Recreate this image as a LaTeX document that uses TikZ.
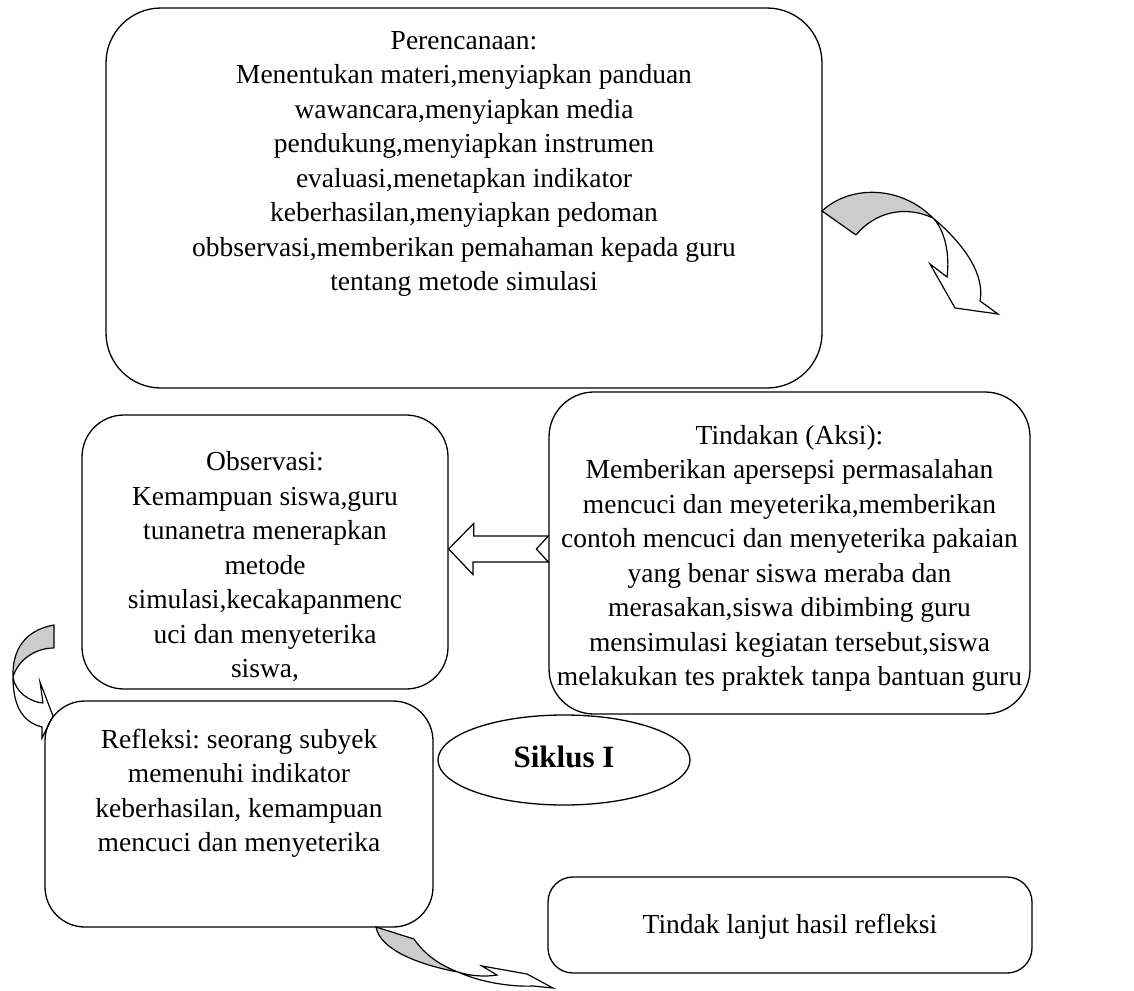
\documentclass[tikz,border=0pt]{standalone}
\usepackage{fontspec}
\setmainfont{Liberation Serif}
\usetikzlibrary{shapes.geometric}
\begin{document}
\frenchspacing
\begin{tikzpicture}[x=1pt,y=-1pt,
  box/.style={draw, rectangle, line width=1.3pt, inner sep=0pt},
  txt/.style={align=center, inner sep=0pt, anchor=north, font=\fontsize{27.5}{34.5}\selectfont},
  ribbon/.style={draw, line width=1.2pt, line join=miter},
  shade/.style={fill=black!20}]
\useasboundingbox (0,0) rectangle (1134,990);

% boxes
\node[box, rounded corners=55pt, minimum width=716pt, minimum height=380pt] (plan) at (464,198) {};
\node[box, rounded corners=42pt, minimum width=366pt, minimum height=274pt] (obs) at (265,552) {};
\node[box, rounded corners=45pt, minimum width=481pt, minimum height=322pt] (act) at (789.5,553) {};
\node[box, rounded corners=40pt, minimum width=388pt, minimum height=226pt] (refl) at (239,814) {};
\node[box, rounded corners=25pt, minimum width=484pt, minimum height=96pt] (next) at (790,925) {};
\node[draw, ellipse, line width=1.3pt, minimum width=252pt, minimum height=90pt, inner sep=0pt] (cyc) at (564,760) {};

% texts
\node[txt] (plant) at ([yshift=-23.5pt]plan.north) {Perencanaan:\\Menentukan materi,menyiapkan panduan\\wawancara,menyiapkan media\\pendukung,menyiapkan instrumen\\evaluasi,menetapkan indikator\\keberhasilan,menyiapkan pedoman\\obbservasi,memberikan pemahaman kepada guru\\tentang metode simulasi};
\node[txt] (obst) at ([yshift=-37pt]obs.north) {Observasi:\\Kemampuan siswa,guru\\tunanetra menerapkan\\metode\\simulasi,kecakapanmenc\\uci dan menyeterika\\siswa,};
\node[txt] (actt) at ([yshift=-33.5pt]act.north) {Tindakan (Aksi):\\Memberikan apersepsi permasalahan\\mencuci dan meyeterika,memberikan\\contoh mencuci dan menyeterika pakaian\\yang benar siswa meraba dan\\merasakan,siswa dibimbing guru\\mensimulasi kegiatan tersebut,siswa\\melakukan tes praktek tanpa bantuan guru};
\node[txt] (reflt) at ([yshift=-28.5pt]refl.north) {Refleksi: seorang subyek\\memenuhi indikator\\keberhasilan, kemampuan\\mencuci dan menyeterika};
\node[inner sep=0pt, anchor=base, font=\fontsize{27.5}{34.5}\selectfont] (nextt) at ([yshift=-8pt]next.center) {Tindak lanjut hasil refleksi};
\node[inner sep=0pt, anchor=base, font=\fontsize{31}{36}\selectfont\bfseries] (cyct) at ([yshift=-7pt]cyc.center) {Siklus I};

% block arrow from Tindakan to Observasi
\draw[ribbon, fill=white] (obs.east |- 0,549) coordinate (bt) -- ++(25,-25.5) -- ++(0,12.5) -- (act.west |- 0,536) -- ++(-12,13) -- ++(12,13) -- (473,562) -- ++(0,12.5) -- cycle;

% curved arrow: top right
\fill[shade] (822,211) .. controls (850,185) and (900,185) .. (933,218) .. controls (905,205) and (875,212) .. (856,235) -- cycle;
\draw[ribbon] (856,235) -- (822,211) .. controls (850,185) and (900,185) .. (933,218)
  .. controls (965,245) and (985,275) .. (980,301) -- (998,314) -- (955,308) -- (930,264) -- (947,277)
  .. controls (950,255) and (945,230) .. (933,218) .. controls (905,205) and (875,212) .. (856,235);

% curved arrow: left
\fill[shade] (54,625) .. controls (25,630) and (12,650) .. (13,677) .. controls (18,660) and (35,648) .. (54,648) -- cycle;
\draw[ribbon] (54,648) -- (54,625) .. controls (25,630) and (12,650) .. (13,677)
  .. controls (13,705) and (22,722) .. (42,727) -- (42,738) -- (53,716) -- (40,682) -- (43,703)
  .. controls (30,702) and (15,692) .. (13,677) .. controls (18,660) and (35,648) .. (54,648);

% curved arrow: bottom
\fill[shade] (376,927) .. controls (380,950) and (420,965) .. (458,972) .. controls (440,965) and (425,955) .. (414,939) -- cycle;
\draw[ribbon] (414,939) -- (376,927) .. controls (380,950) and (420,965) .. (458,972)
  .. controls (480,982) and (510,987) .. (533,986) -- (553,988) -- (527,974) -- (482,966) -- (497,975)
  .. controls (485,977) and (470,976) .. (458,972) .. controls (440,965) and (425,955) .. (414,939);
\end{tikzpicture}
\end{document}
